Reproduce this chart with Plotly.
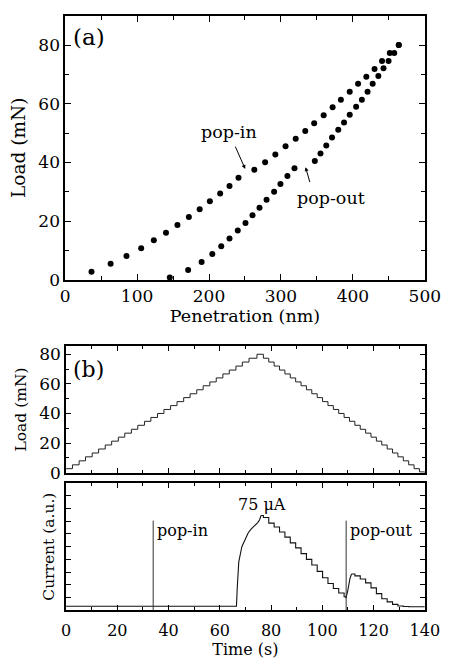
import plotly.graph_objects as go

# ---------------- (a) load vs penetration ----------------
load_pen = [36.7, 63.2, 85.3, 105.7, 123.3, 140.2, 156.1, 172.0, 187.0, 201.2,
            215.5, 228.5, 241.0, 263.0, 278.0, 292.2, 306.4, 320.5, 333.8, 346.2,
            359.4, 371.8, 383.3, 395.6, 407.2, 418.7, 430.1, 440.5, 451.3, 463.8]
load_force = [2.8, 5.5, 8.1, 10.8, 13.5, 16.1, 18.7, 21.4, 24.1, 26.8,
              29.4, 32.0, 34.8, 37.5, 40.1, 42.7, 45.5, 48.1, 50.7, 53.4,
              56.1, 58.8, 61.4, 64.1, 66.8, 69.2, 71.9, 74.6, 77.3, 80.0]
unload_pen = [463.8, 457.5, 449.6, 442.6, 435.4, 427.5, 420.4, 412.5, 404.5, 395.6,
              387.7, 379.7, 371.0, 363.0, 355.0, 347.1, 318.8, 309.0, 299.3, 290.5,
              280.0, 270.2, 260.5, 250.7, 240.0, 228.5, 217.0, 204.6, 189.7, 171.0, 145.5]
unload_force = [80.0, 77.3, 74.6, 72.1, 69.5, 66.8, 64.1, 61.4, 59.0, 56.3,
                53.6, 51.2, 48.5, 45.8, 43.1, 40.5, 38.0, 35.4, 32.7, 30.0,
                27.3, 24.6, 22.0, 19.4, 16.8, 14.1, 11.5, 8.8, 6.1, 3.4, 0.8]

# ---------------- (b) load vs time (staircase) ----------------
stair_t = [0.0, 2.5, 5.1, 7.6, 10.2, 12.7, 15.3, 17.8, 20.4, 22.9,
           25.5, 28.0, 30.6, 33.1, 35.7, 38.2, 40.8, 43.3, 45.9, 48.4,
           51.0, 53.5, 56.1, 58.6, 61.2, 63.7, 66.3, 68.8, 71.4, 74.5,
           77.0, 79.1, 81.2, 83.3, 85.4, 87.5, 89.6, 91.7, 93.8, 95.9,
           98.0, 100.1, 102.2, 104.3, 106.4, 108.5, 110.6, 112.7, 114.8, 116.9,
           119.0, 121.1, 123.2, 125.3, 127.4, 129.5, 131.6, 133.7, 135.8, 137.9, 140.0]
stair_load = [2.7, 5.3, 8.0, 10.7, 13.3, 16.0, 18.7, 21.3, 24.0, 26.7,
              29.3, 32.0, 34.7, 37.3, 40.0, 42.7, 45.3, 48.0, 50.7, 53.3,
              56.0, 58.7, 61.3, 64.0, 66.7, 69.3, 72.0, 74.7, 77.3, 80.0,
              77.3, 74.7, 72.0, 69.3, 66.7, 64.0, 61.3, 58.7, 56.0, 53.3,
              50.7, 48.0, 45.3, 42.7, 40.0, 37.3, 34.7, 32.0, 29.3, 26.7,
              24.0, 21.3, 18.7, 16.0, 13.3, 10.7, 8.0, 5.3, 2.7, 0.5, 0.0]

# ---------------- current vs time ----------------
rise_t = [0.0, 66.5, 66.8, 67.4, 68.6, 69.9, 71.1, 72.3, 73.6, 74.8, 75.5, 76.1]
rise_i = [0.3, 0.3, 1.75, 3.8, 5.0, 5.6, 6.1, 6.4, 6.65, 6.9, 7.1, 7.45]
fall1_t = [76.1, 77.0, 79.1, 81.2, 83.3, 85.4, 87.5, 89.6, 91.7, 93.8,
           95.9, 98.0, 100.1, 102.2, 104.3, 106.4, 108.5, 109.2]
fall1_i = [7.45, 7.3, 6.85, 6.55, 6.15, 5.75, 5.3, 4.9, 4.45, 4.0,
           3.55, 3.05, 2.55, 2.1, 1.7, 1.35, 1.05, 0.95]
hump_t = [109.2, 109.9, 110.8, 111.4]
hump_i = [0.95, 1.5, 2.5, 2.85]
fall2_t = [111.4, 112.7, 114.8, 116.9, 119.0, 121.1, 123.2, 125.3, 127.4,
           129.5, 131.6, 133.7, 135.8, 137.9, 140.0]
fall2_i = [2.85, 2.7, 2.45, 2.15, 1.75, 1.3, 0.9, 0.65, 0.45,
           0.33, 0.28, 0.27, 0.26, 0.26, 0.26]

event_t = [34.0, 109.3]
event_labels = ["pop-in", "pop-out"]
event_top = 7.05

FONT = "DejaVu Serif"
BLACK = "#000000"

fig = go.Figure()

fig.add_trace(go.Scatter(x=load_pen, y=load_force, mode="markers",
                         marker=dict(color=BLACK, size=6), xaxis="x", yaxis="y",
                         showlegend=False))
fig.add_trace(go.Scatter(x=unload_pen, y=unload_force, mode="markers",
                         marker=dict(color=BLACK, size=6), xaxis="x", yaxis="y",
                         showlegend=False))

fig.add_trace(go.Scatter(x=stair_t, y=stair_load, mode="lines",
                         line=dict(color="#222222", width=1, shape="hv"),
                         xaxis="x2", yaxis="y2", showlegend=False))

for tt, ii, shp in [(rise_t, rise_i, "linear"), (fall1_t, fall1_i, "hv"),
                    (hump_t, hump_i, "linear"), (fall2_t, fall2_i, "hv")]:
    fig.add_trace(go.Scatter(x=tt, y=ii, mode="lines",
                             line=dict(color="#111111", width=1.1, shape=shp),
                             xaxis="x3", yaxis="y3", showlegend=False))

for et in event_t:
    fig.add_trace(go.Scatter(x=[et, et], y=[0, event_top], mode="lines",
                             line=dict(color="#333333", width=1),
                             xaxis="x3", yaxis="y3", showlegend=False))

def axstyle(**kw):
    d = dict(showline=True, linecolor=BLACK, linewidth=1.5, mirror="ticks",
             ticks="inside", tickcolor=BLACK, tickwidth=1, showgrid=False,
             zeroline=False, ticklabeloverflow="allow",
             tickfont=dict(family=FONT, size=17, color=BLACK))
    d.update(kw)
    return d

fig.update_layout(
    width=458, height=664,
    margin=dict(l=0, r=0, t=0, b=0),
    paper_bgcolor="white", plot_bgcolor="white",
    font=dict(family=FONT, color=BLACK),
    xaxis=axstyle(domain=[0.1376, 0.9607], range=[0, 500], dtick=100, ticklen=6,
                  minor=dict(dtick=50, ticklen=4, ticks="inside", tickcolor=BLACK),
                  anchor="y",
                  title=dict(text="Penetration (nm)", font=dict(family=FONT, size=17.5), standoff=1)),
    yaxis=axstyle(domain=[0.5738, 0.9789], range=[0, 90], tickvals=[0, 20, 40, 60, 80], ticklen=6,
                  minor=dict(dtick=10, ticklen=4, ticks="inside", tickcolor=BLACK),
                  anchor="x",
                  title=dict(text="Load (mN)", font=dict(family=FONT, size=18.5), standoff=8)),
    xaxis2=axstyle(domain=[0.1397, 0.9607], range=[0, 140], dtick=20, ticklen=5,
                   minor=dict(dtick=10, ticklen=3, ticks="inside", tickcolor=BLACK),
                   showticklabels=False, anchor="y2"),
    yaxis2=axstyle(domain=[0.2781, 0.4718], range=[0, 85.3], dtick=20, ticklen=5,
                   minor=dict(dtick=10, ticklen=3, ticks="inside", tickcolor=BLACK),
                   anchor="x2", tickfont=dict(family=FONT, size=17, color=BLACK),
                   title=dict(text="Load (mN)", font=dict(family=FONT, size=15.5), standoff=9)),
    xaxis3=axstyle(domain=[0.1397, 0.9607], range=[0, 140], dtick=20, ticklen=5,
                   minor=dict(dtick=10, ticklen=3, ticks="inside", tickcolor=BLACK),
                   anchor="y3", tickfont=dict(family=FONT, size=16, color=BLACK),
                   ticklabelstandoff=5,
                   title=dict(text="Time (s)", font=dict(family=FONT, size=16), standoff=3)),
    yaxis3=axstyle(domain=[0.0673, 0.2620], range=[0, 10], dtick=1, ticklen=5,
                   showticklabels=False, anchor="x3",
                   title=dict(text="Current (a.u.)", font=dict(family=FONT, size=15.5), standoff=6)),
)

ann = []
ann.append(dict(text="(a)", x=0.015, y=0.975, xref="x domain", yref="y domain",
                xanchor="left", yanchor="top", showarrow=False,
                font=dict(family=FONT, size=23, color=BLACK)))
ann.append(dict(text="(b)", x=0.015, y=0.93, xref="x2 domain", yref="y2 domain",
                xanchor="left", yanchor="top", showarrow=False,
                font=dict(family=FONT, size=22, color=BLACK)))
ann.append(dict(text="pop-in", x=228, y=50.5, xref="x", yref="y", showarrow=False,
                font=dict(family=FONT, size=17.5, color=BLACK)))
ann.append(dict(text="", x=250.3, y=37.8, ax=235.7, ay=45.9, xref="x", yref="y",
                axref="x", ayref="y", showarrow=True, arrowhead=2, arrowsize=0.8,
                arrowwidth=1, arrowcolor=BLACK))
ann.append(dict(text="pop-out", x=370, y=27.8, xref="x", yref="y", showarrow=False,
                font=dict(family=FONT, size=17.5, color=BLACK)))
ann.append(dict(text="", x=334.2, y=38.4, ax=340.8, ay=32.8, xref="x", yref="y",
                axref="x", ayref="y", showarrow=True, arrowhead=2, arrowsize=0.8,
                arrowwidth=1, arrowcolor=BLACK))
for et, lab in zip(event_t, event_labels):
    ann.append(dict(text=lab, x=et + 0.6, y=event_top + 0.15, xref="x3", yref="y3",
                    xanchor="left", yanchor="top", showarrow=False,
                    font=dict(family=FONT, size=16, color=BLACK)))
ann.append(dict(text="75 μA", x=76.3, y=8.3, xref="x3", yref="y3", showarrow=False,
                font=dict(family=FONT, size=16, color=BLACK)))
fig.update_layout(annotations=ann)

fig.write_html("out.html")
